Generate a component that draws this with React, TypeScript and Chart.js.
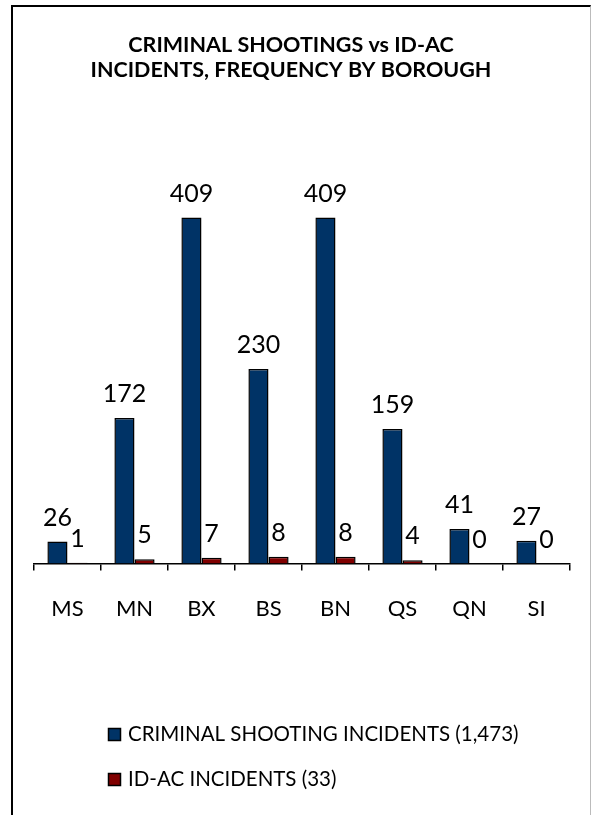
import React, { useEffect, useRef } from 'react';
import { Chart, registerables } from 'chart.js';

Chart.register(...registerables);

const boroughs = ['MS', 'MN', 'BX', 'BS', 'BN', 'QS', 'QN', 'SI'];
const shootings = [26, 172, 409, 230, 409, 159, 41, 27];
const idac = [1, 5, 7, 8, 8, 4, 0, 0];
const seriesNames = ['CRIMINAL SHOOTING INCIDENTS (1,473)', 'ID-AC INCIDENTS (33)'];
const seriesColors = ['#003366', '#800000'];
const titleLines = ['CRIMINAL SHOOTINGS vs ID-AC', 'INCIDENTS, FREQUENCY BY BOROUGH'];
const yMax = 477;

const overlay = {
  id: 'overlay',
  afterDatasetsDraw(chart: any) {
    const ctx = chart.ctx as CanvasRenderingContext2D;
    ctx.save();
    // data labels
    ctx.fillStyle = '#000';
    ctx.font = '25px Lato';
    ctx.textAlign = 'center';
    ctx.textBaseline = 'middle';
    chart.data.datasets.forEach((ds: any, i: number) => {
      const meta = chart.getDatasetMeta(i);
      meta.data.forEach((bar: any, j: number) => {
        ctx.fillText(String(ds.data[j]), bar.x, bar.y - 24);
      });
    });
    // title
    ctx.font = 'bold 21.5px Lato';
    titleLines.forEach((t, k) => ctx.fillText(t, 291, 45 + k * 25));
    // legend
    ctx.textAlign = 'left';
    ctx.font = '20.5px Lato';
    chart.data.datasets.forEach((ds: any, i: number) => {
      const cy = 734.5 + i * 45;
      ctx.fillStyle = ds.backgroundColor;
      ctx.fillRect(108.5, cy - 6, 12, 12);
      ctx.strokeStyle = '#000';
      ctx.lineWidth = 1.5;
      ctx.strokeRect(108.5, cy - 6, 12, 12);
      ctx.fillStyle = '#000';
      ctx.fillText(ds.label, 128, cy);
    });
    ctx.restore();
  },
};

export default function App() {
  const ref = useRef<HTMLCanvasElement>(null);
  useEffect(() => {
    if (!ref.current) return;
    const chart = new Chart(ref.current, {
      type: 'bar',
      data: {
        labels: boroughs,
        datasets: [
          {
            label: seriesNames[0],
            data: shootings,
            backgroundColor: seriesColors[0],
            borderColor: '#000',
            borderWidth: 1.5,
            barPercentage: 1,
            categoryPercentage: 0.6,
          },
          {
            label: seriesNames[1],
            data: idac,
            backgroundColor: seriesColors[1],
            borderColor: '#000',
            borderWidth: 1.5,
            barPercentage: 1,
            categoryPercentage: 0.6,
          },
        ],
      },
      options: {
        responsive: false,
        animation: false,
        layout: { padding: { left: 34, right: 21, top: 160, bottom: 168 } },
        plugins: {
          legend: { display: false },
          title: { display: false },
          tooltip: { enabled: false },
        },
        scales: {
          x: {
            grid: {
              drawOnChartArea: false,
              drawTicks: true,
              tickLength: 7,
              color: '#000',
              lineWidth: 1.5,
            },
            border: { color: '#000', width: 1.5 },
            ticks: {
              color: '#000',
              font: { family: 'Lato', size: 22 },
              padding: 25,
            },
          },
          y: {
            display: false,
            min: 0,
            max: yMax,
          },
        },
      },
      plugins: [overlay],
    });
    return () => chart.destroy();
  }, []);
  return (
    <div style={{ position: 'absolute', left: 0, top: 0, width: 591, height: 815, background: '#fff', overflow: 'hidden' }}>
      <div
        style={{
          position: 'absolute',
          left: 11,
          top: 5,
          width: 577,
          height: 840,
          borderLeft: '2px solid #000',
          borderTop: '2px solid #000',
          borderRight: '1px solid #bbb',
        }}
      />
      <canvas ref={ref} width={591} height={815} style={{ position: 'absolute', left: 0, top: 0, width: 591, height: 815 }} />
    </div>
  );
}
